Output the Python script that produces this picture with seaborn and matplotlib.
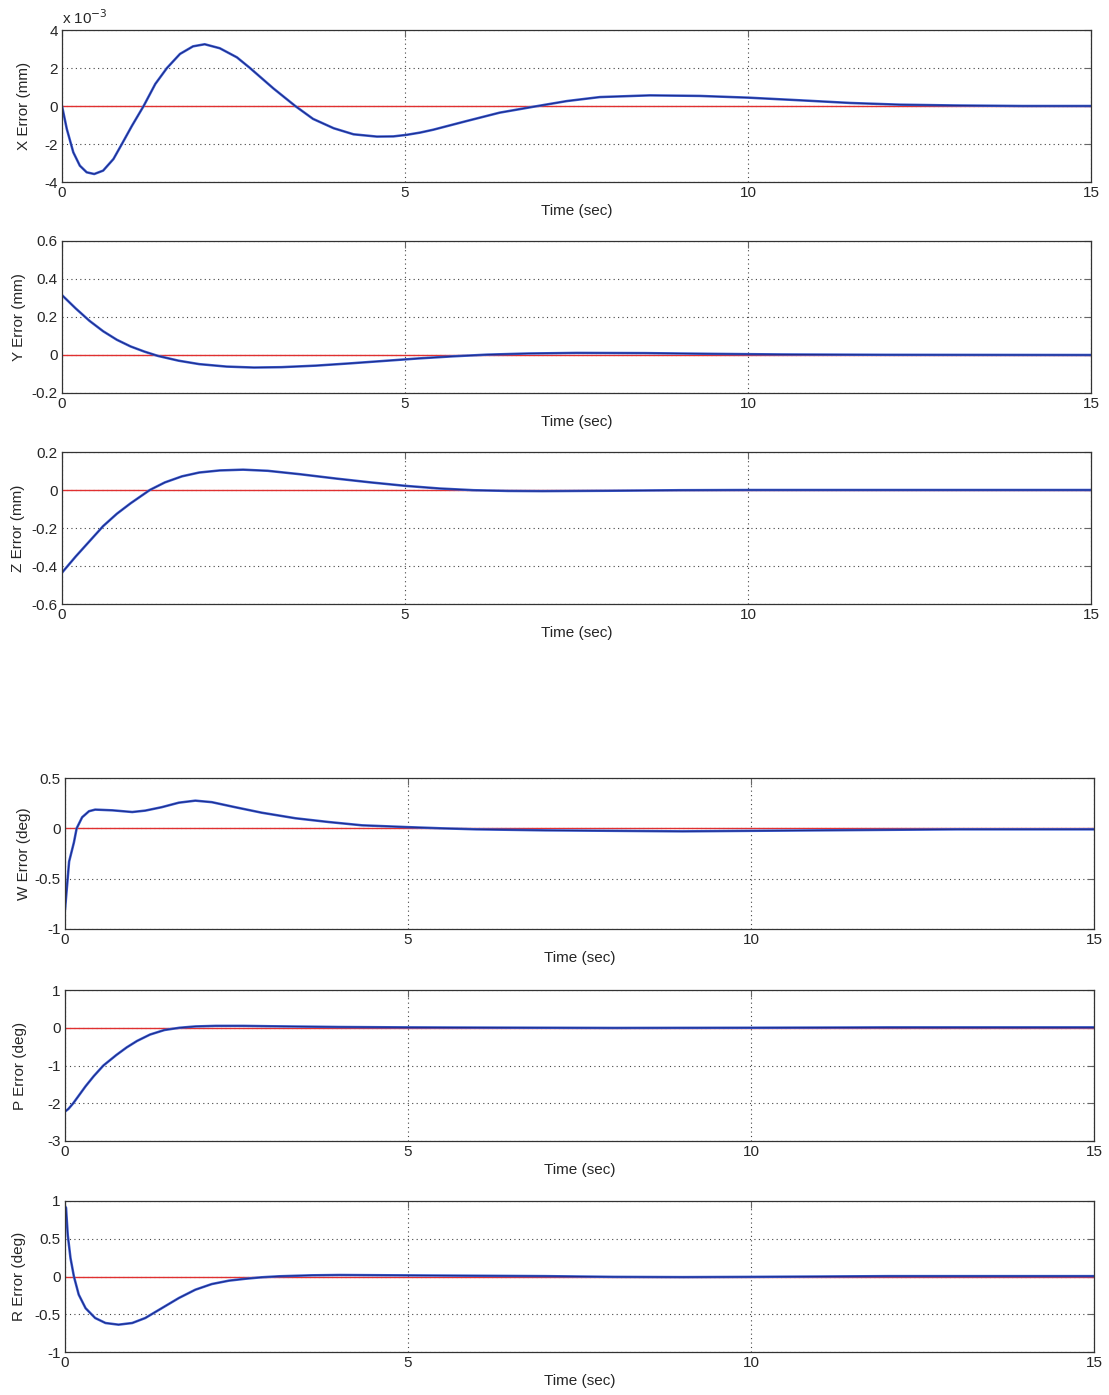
import numpy as np
import pandas as pd
import matplotlib
matplotlib.use("Agg")
import matplotlib.pyplot as plt
import seaborn as sns

# ---------------- data ----------------
x_t = [0, 0.07, 0.165, 0.26, 0.36, 0.47, 0.60, 0.75, 0.87, 1.02, 1.19, 1.36, 1.53, 1.72,
       1.91, 2.08, 2.30, 2.55, 2.74, 3.08, 3.40, 3.66, 3.96, 4.25, 4.59, 4.83, 5.02, 5.22,
       5.41, 5.90, 6.38, 6.87, 7.36, 7.84, 8.57, 9.30, 10.0, 10.76, 11.49, 12.22, 13.0,
       14.0, 15.0]
x_err_e3 = [0, -1.21, -2.44, -3.14, -3.49, -3.58, -3.40, -2.79, -2.02, -1.04, 0, 1.16, 2.0,
            2.74, 3.14, 3.25, 3.04, 2.56, 2.0, 0.93, 0, -0.68, -1.17, -1.49, -1.61, -1.60,
            -1.52, -1.40, -1.25, -0.79, -0.35, -0.04, 0.26, 0.47, 0.56, 0.53, 0.44, 0.30,
            0.16, 0.07, 0.03, 0.0, 0.0]

y_t = [0, 0.2, 0.4, 0.6, 0.8, 1.0, 1.2, 1.4, 1.7, 2.0, 2.4, 2.8, 3.2, 3.7, 4.2, 4.7, 5.2,
       5.7, 6.2, 6.8, 7.5, 8.5, 9.5, 10.5, 12, 15]
y_err = [0.315, 0.245, 0.18, 0.125, 0.08, 0.045, 0.018, -0.005, -0.03, -0.048, -0.061,
         -0.066, -0.064, -0.056, -0.044, -0.031, -0.018, -0.007, 0.002, 0.008, 0.011, 0.01,
         0.006, 0.003, 0.001, 0]

z_t = [0, 0.2, 0.4, 0.6, 0.8, 1.0, 1.28, 1.5, 1.75, 2.0, 2.3, 2.64, 3.0, 3.47, 4.0, 4.5,
       5.0, 5.5, 6.0, 6.5, 7.0, 8.0, 9.0, 10, 15]
z_err = [-0.435, -0.35, -0.27, -0.19, -0.125, -0.07, 0, 0.04, 0.072, 0.092, 0.103, 0.107,
         0.101, 0.083, 0.06, 0.04, 0.022, 0.008, -0.001, -0.005, -0.006, -0.004, -0.001, 0, 0]

w_t = [0, 0.03, 0.06, 0.13, 0.17, 0.25, 0.35, 0.44, 0.69, 0.98, 1.17, 1.41, 1.66, 1.90,
       2.14, 2.48, 2.87, 3.36, 3.84, 4.33, 5.0, 5.5, 6.0, 7.0, 8.0, 9.0, 10, 11, 12, 13,
       14, 15]
w_err = [-0.81, -0.57, -0.33, -0.14, 0, 0.11, 0.17, 0.186, 0.179, 0.162, 0.176, 0.21,
         0.255, 0.275, 0.26, 0.21, 0.155, 0.10, 0.063, 0.03, 0.012, 0.0, -0.01, -0.02,
         -0.025, -0.03, -0.025, -0.02, -0.015, -0.01, -0.01, -0.01]

p_t = [0, 0.05, 0.12, 0.2, 0.3, 0.42, 0.56, 0.75, 0.9, 1.05, 1.24, 1.45, 1.67, 1.9, 2.2,
       2.6, 3.0, 3.5, 4, 5, 6, 8, 10, 12, 15]
p_err = [-2.22, -2.15, -2.0, -1.8, -1.55, -1.28, -1.0, -0.72, -0.52, -0.35, -0.18, -0.06,
         0, 0.035, 0.05, 0.05, 0.04, 0.03, 0.02, 0.01, 0.005, -0.005, 0, 0.01, 0.01]

r_t = [0, 0.015, 0.04, 0.08, 0.13, 0.20, 0.30, 0.44, 0.59, 0.78, 0.98, 1.17, 1.41, 1.66,
       1.90, 2.14, 2.39, 2.63, 2.87, 3.12, 3.6, 4.0, 5, 6, 7, 8, 9, 10, 12, 15]
r_err = [0.93, 0.91, 0.55, 0.245, 0, -0.24, -0.42, -0.55, -0.616, -0.638, -0.616, -0.55,
         -0.42, -0.285, -0.175, -0.10, -0.055, -0.03, -0.01, 0.003, 0.016, 0.02, 0.015,
         0.01, 0.005, -0.005, -0.008, -0.005, 0.005, 0.005]

ref_t = [0, 15]
ref_val = [0, 0]

x_ticks = [0, 5, 10, 15]
panels = [
    ("X Error (mm)", x_t, x_err_e3, [-4, -2, 0, 2, 4], ["-4", "-2", "0", "2", "4"]),
    ("Y Error (mm)", y_t, y_err, [-0.2, 0, 0.2, 0.4, 0.6], ["-0.2", "0", "0.2", "0.4", "0.6"]),
    ("Z Error (mm)", z_t, z_err, [-0.6, -0.4, -0.2, 0, 0.2], ["-0.6", "-0.4", "-0.2", "0", "0.2"]),
    ("W Error (deg)", w_t, w_err, [-1, -0.5, 0, 0.5], ["-1", "-0.5", "0", "0.5"]),
    ("P Error (deg)", p_t, p_err, [-3, -2, -1, 0, 1], ["-3", "-2", "-1", "0", "1"]),
    ("R Error (deg)", r_t, r_err, [-1, -0.5, 0, 0.5, 1], ["-1", "-0.5", "0", "0.5", "1"]),
]

# ---------------- style ----------------
sns.set_style("white")
plt.rcParams['font.family'] = ['Liberation Sans', 'DejaVu Sans']
plt.rcParams['font.size'] = 11

W, H = 1109, 1395
fig = plt.figure(figsize=(W / 100, H / 100), dpi=100)

# axes boxes in pixels: (left, top, right, bottom) and y-label centre x in pixels
boxes = [(62, 30, 1091, 182), (62, 241, 1091, 393), (62, 452, 1091, 604),
         (65, 778, 1094, 929), (65, 990, 1094, 1141), (65, 1201, 1094, 1352)]
label_x = [23, 18, 17, 23, 19, 18]

for (label, t, v, yt, ytl), (l, tp, r, b), lx in zip(panels, boxes, label_x):
    ax = fig.add_axes([l / W, 1 - b / H, (r - l) / W, (b - tp) / H])
    ref_df = pd.DataFrame({"t": ref_t, "v": ref_val})
    sns.lineplot(data=ref_df, x="t", y="v", ax=ax, color="#e03030", linewidth=1.0)
    df = pd.DataFrame({"t": t, "v": v})
    sns.lineplot(data=df, x="t", y="v", ax=ax, color="#3a5bd0", linewidth=1.8)
    sns.lineplot(data=df, x="t", y="v", ax=ax, color="#1c2a85", linewidth=0.7)
    ax.set_xlim(0, 15)
    ax.set_ylim(yt[0], yt[-1])
    ax.set_xticks(x_ticks)
    ax.set_xticklabels([str(x) for x in x_ticks])
    ax.set_yticks(yt)
    ax.set_yticklabels(ytl)
    ax.grid(True, linestyle=(0, (1, 3)), color="#444444", linewidth=0.8)
    ax.tick_params(direction="in", length=5, width=0.8, color="#666666",
                   top=True, right=True, labelsize=11, pad=3)
    for s in ax.spines.values():
        s.set_color("#333333")
        s.set_linewidth(0.9)
    ax.set_xlabel("Time (sec)", fontsize=11, labelpad=3)
    ax.set_ylabel(label, fontsize=11)
    # label anchor is its right edge; shift by half the text height to centre at lx
    ax.yaxis.set_label_coords((lx + 8 - l) / (r - l), 0.5)

    if label.startswith("X"):
        ax.text(0, 1.02, r"x 10$^{-3}$", transform=ax.transAxes, fontsize=11,
                ha="left", va="bottom")

fig.savefig("out.png", dpi=100)
